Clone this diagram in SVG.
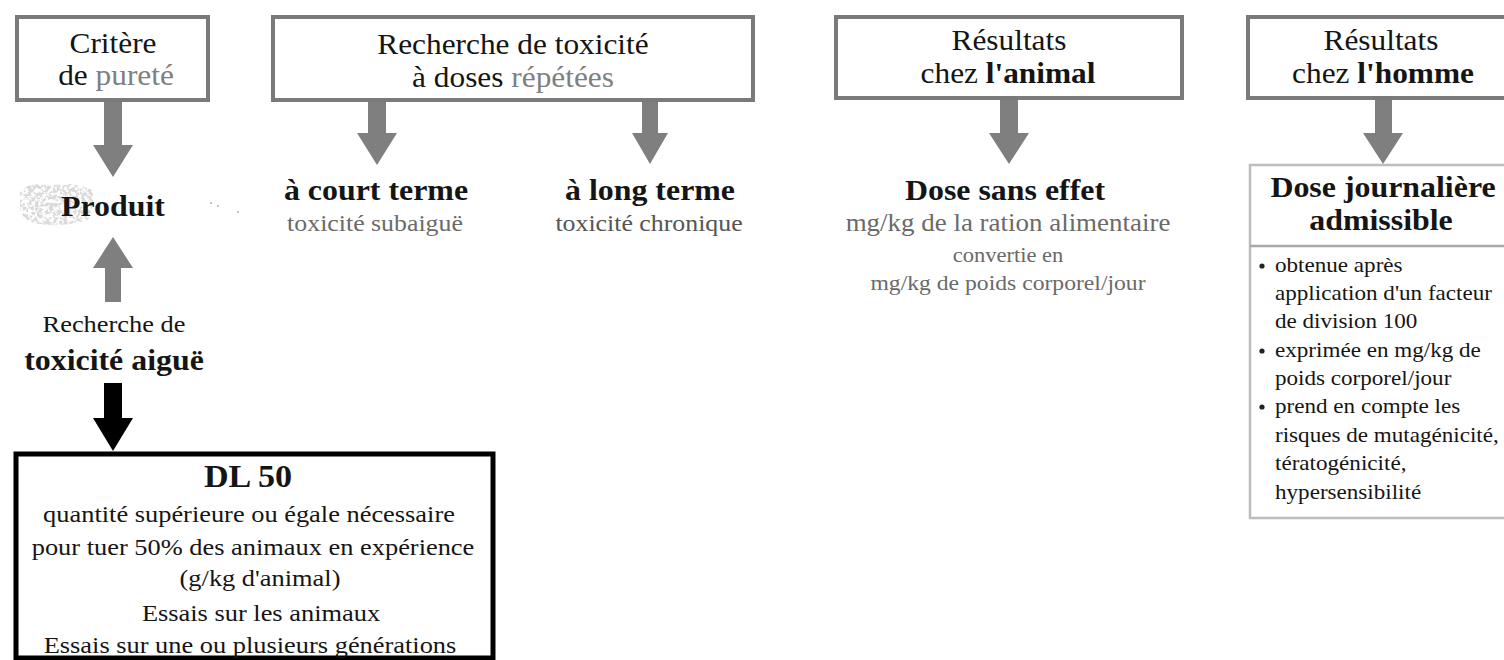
<svg xmlns="http://www.w3.org/2000/svg" width="1504" height="660" viewBox="0 0 1504 660">
  <style>
    text { font-family: "Liberation Serif", "Times New Roman", serif; fill: #151515; }
    .mid { text-anchor: middle; }
    .title { font-size: 28.5px; }
    .head { font-size: 29px; font-weight: bold; }
    .sub { font-size: 23.5px; fill: #6a6a6a; }
    .body { font-size: 24px; }
    .small { font-size: 21px; }
    .grey { fill: #808080; }
    .b { font-weight: bold; }
    .box { fill: #fff; stroke: #7a7a7a; stroke-width: 4; }
    .light { fill: #fff; stroke: #bdbdbd; stroke-width: 2.5; }
    .heavy { fill: #fff; stroke: #000; stroke-width: 5; }
    .arrow { fill: #7f7f7f; }
    .arrow-dark { fill: #000; }
  </style>
  <defs>
    <!-- grainy grey blotch behind "Produit" -->
    <filter id="speckle" x="0" y="0" width="1" height="1">
      <feTurbulence type="fractalNoise" baseFrequency="0.28" numOctaves="2" seed="11" result="n"/>
      <feColorMatrix in="n" type="matrix" values="0 0 0 0 0.70  0 0 0 0 0.70  0 0 0 0 0.70  6 0 0 0 -2.5" result="dots"/>
      <feComposite in="dots" in2="SourceGraphic" operator="in"/>
    </filter>
  </defs>

  <rect width="1504" height="660" fill="#fff"/>

  <!-- connectors -->
  <g id="connectors">
    <polygon class="arrow" points="104,100 122,100 122,145 133,145 113,177 93,145 104,145"/>
    <polygon class="arrow" points="105,302 121,302 121,268 133,268 113,237 93,268 105,268"/>
    <polygon class="arrow" points="368,100 386,100 386,133 397,133 377,165 357,133 368,133"/>
    <polygon class="arrow" points="642,100 658,100 658,133 668,133 650,164 632,133 642,133"/>
    <polygon class="arrow" points="1000,98 1018,98 1018,133 1029,133 1009,164 989,133 1000,133"/>
    <polygon class="arrow" points="1375,98 1392,98 1392,133 1403,133 1383,164 1363,133 1375,133"/>
    <polygon class="arrow-dark" points="104,383 122,383 122,418 133,418 113,451 93,418 104,418"/>
  </g>

  <!-- Critère de pureté -->
  <g id="critere">
    <rect class="box" x="17" y="17" width="191" height="83"/>
    <text class="title mid" transform="translate(113 53) scale(1.1 1)">Critère</text>
    <text class="title mid" transform="translate(116 85) scale(1.1 1)">de <tspan class="grey">pureté</tspan></text>
  </g>

  <!-- Recherche de toxicité à doses répétées -->
  <g id="doses-repetees">
    <rect class="box" x="273" y="17" width="480" height="83" stroke-width="3.5"/>
    <text class="title mid" transform="translate(513 54) scale(1.1 1)">Recherche de toxicité</text>
    <text class="title mid" transform="translate(513 87) scale(1.1 1)">à doses <tspan class="grey">répétées</tspan></text>
  </g>

  <!-- Résultats chez l'animal -->
  <g id="resultats-animal">
    <rect class="box" x="836" y="17" width="346" height="81" stroke-width="3.5"/>
    <text class="title mid" transform="translate(1009 50) scale(1.1 1)">Résultats</text>
    <text class="title mid" transform="translate(1008 83) scale(1.1 1)">chez <tspan class="b">l'animal</tspan></text>
  </g>

  <!-- Résultats chez l'homme -->
  <g id="resultats-homme">
    <rect class="box" x="1248" y="17" width="290" height="81" stroke-width="3.5"/>
    <text class="title mid" transform="translate(1381 50) scale(1.1 1)">Résultats</text>
    <text class="title mid" transform="translate(1383 83) scale(1.1 1)">chez <tspan class="b">l'homme</tspan></text>
  </g>

  <!-- Produit -->
  <g id="produit">
    <g filter="url(#speckle)">
      <path d="M20,192 Q30,180 50,186 Q70,180 92,190 Q96,205 88,220 Q60,228 40,224 Q22,222 20,208 Z" fill="#000"/>
    </g>
    <text class="head mid" transform="translate(113 216) scale(1.1 1)">Produit</text>
    <g fill="#c4c4c4">
      <rect x="210" y="202" width="2" height="2"/>
      <rect x="217" y="205" width="2" height="2"/>
      <rect x="237" y="211" width="2" height="2"/>
    </g>
  </g>

  <!-- à court terme -->
  <g id="court-terme">
    <text class="head mid" transform="translate(376 200) scale(1.1 1)">à court terme</text>
    <text class="sub mid" transform="translate(375 231) scale(1.1 1)">toxicité subaiguë</text>
  </g>

  <!-- à long terme -->
  <g id="long-terme">
    <text class="head mid" transform="translate(650 200) scale(1.1 1)">à long terme</text>
    <text class="sub mid" style="fill:#555" transform="translate(649 231) scale(1.1 1)">toxicité chronique</text>
  </g>

  <!-- Dose sans effet -->
  <g id="dose-sans-effet">
    <text class="head mid" transform="translate(1005 200) scale(1.1 1)">Dose sans effet</text>
    <text class="sub mid" style="font-size:24.5px" transform="translate(1008 231) scale(1.1 1)">mg/kg de la ration alimentaire</text>
    <text class="sub mid" style="font-size:20.5px" transform="translate(1008 262) scale(1.1 1)">convertie en</text>
    <text class="sub mid" style="font-size:21.5px" transform="translate(1008 290) scale(1.1 1)">mg/kg de poids corporel/jour</text>
  </g>

  <!-- Dose journalière admissible -->
  <g id="dja">
    <rect class="light" x="1250" y="165" width="290" height="353"/>
    <line x1="1250" y1="246" x2="1504" y2="246" stroke="#a8a8a8" stroke-width="2.5"/>
    <text class="head mid" transform="translate(1383 197) scale(1.1 1)">Dose journalière</text>
    <text class="head mid" transform="translate(1381 230) scale(1.1 1)">admissible</text>
    <g>
      <circle cx="1262" cy="266" r="2.6" fill="#222"/>
      <circle cx="1262" cy="351" r="2.6" fill="#222"/>
      <circle cx="1262" cy="407" r="2.6" fill="#222"/>
      <text class="small" transform="translate(1275 272) scale(1.1 1)">obtenue après</text>
      <text class="small" transform="translate(1275 300) scale(1.1 1)">application d'un facteur</text>
      <text class="small" transform="translate(1275 328) scale(1.1 1)">de division 100</text>
      <text class="small" transform="translate(1275 357) scale(1.1 1)">exprimée en mg/kg de</text>
      <text class="small" transform="translate(1275 385) scale(1.1 1)">poids corporel/jour</text>
      <text class="small" transform="translate(1275 413) scale(1.1 1)">prend en compte les</text>
      <text class="small" transform="translate(1275 442) scale(1.1 1)">risques de mutagénicité,</text>
      <text class="small" transform="translate(1275 470) scale(1.1 1)">tératogénicité,</text>
      <text class="small" transform="translate(1275 499) scale(1.1 1)">hypersensibilité</text>
    </g>
  </g>

  <!-- Recherche de toxicité aiguë -->
  <g id="toxicite-aigue">
    <text class="body mid" transform="translate(114 332) scale(1.1 1)">Recherche de</text>
    <text class="head mid" transform="translate(114 370) scale(1.1 1)">toxicité aiguë</text>
  </g>

  <!-- DL 50 -->
  <g id="dl50">
    <rect class="heavy" x="16" y="454" width="477" height="204"/>
    <text class="head mid" style="font-size:31px" transform="translate(248 487) scale(1.1 1)">DL 50</text>
    <text class="body mid" transform="translate(249 522) scale(1.1 1)">quantité supérieure ou égale nécessaire</text>
    <text class="body mid" transform="translate(253 555) scale(1.1 1)">pour tuer 50% des animaux en expérience</text>
    <text class="body mid" transform="translate(260 586) scale(1.1 1)">(g/kg d'animal)</text>
    <text class="body mid" transform="translate(261 621) scale(1.1 1)">Essais sur les animaux</text>
    <text class="body mid" transform="translate(250 653) scale(1.1 1)">Essais sur une ou plusieurs générations</text>
  </g>
</svg>
